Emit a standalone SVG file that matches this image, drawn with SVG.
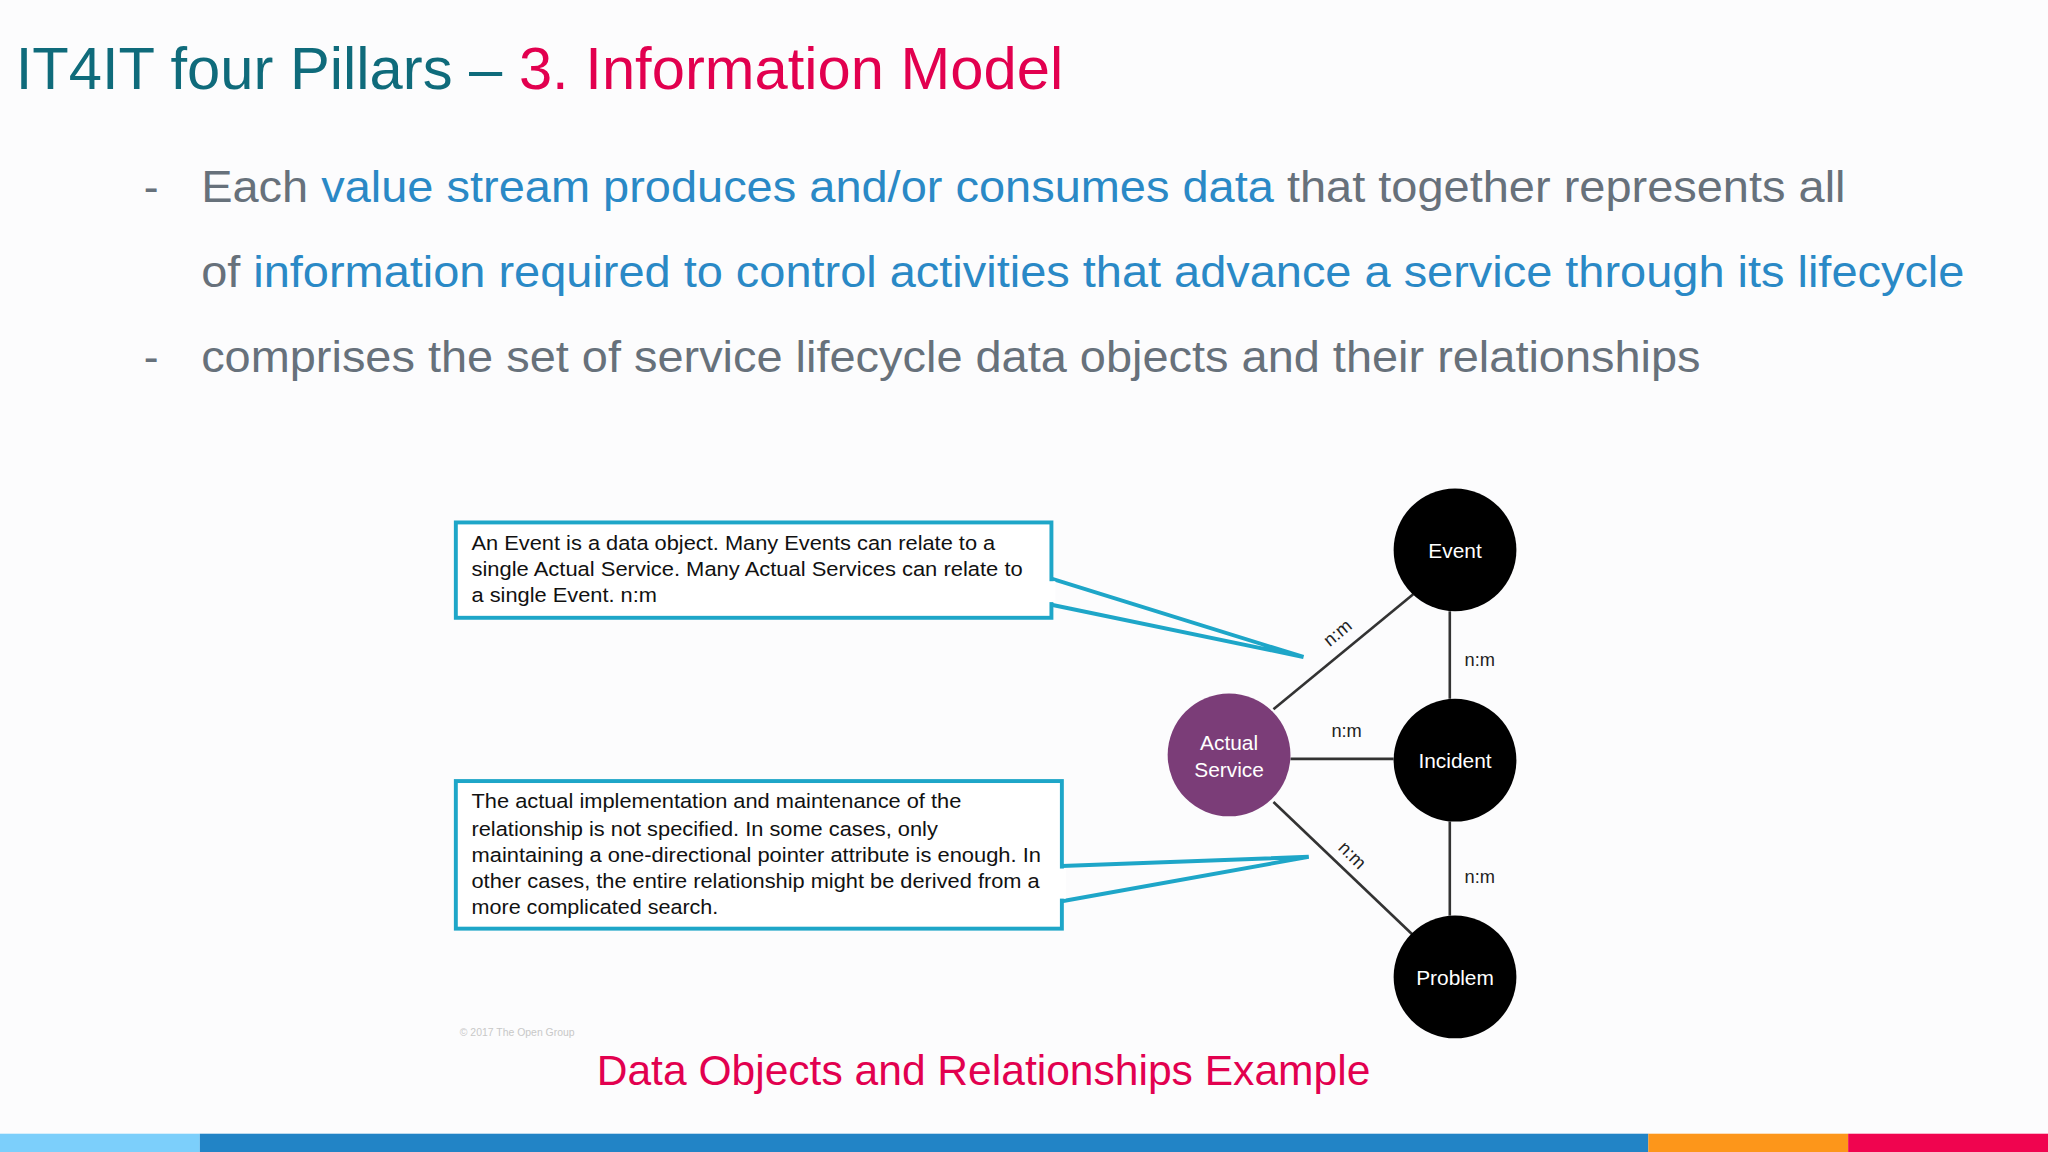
<svg xmlns="http://www.w3.org/2000/svg" width="2048" height="1152" viewBox="0 0 2048 1152">
<style>
.t{font-family:"Liberation Sans",Arial,sans-serif}
.b{font-size:34px;fill:#67717b}
.hl{fill:#2a89c6}
.box{fill:#fff;stroke:#1ea6c8;stroke-width:3}
.co{stroke:#1ea6c8;stroke-width:3;fill:none}
.bt{font-size:15.5px;fill:#111}
.node{fill:#000}
.nt{font-size:16px;fill:#fff;text-anchor:middle}
.ln{stroke:#333;stroke-width:2}
.lb{font-size:14px;fill:#222;text-anchor:middle}
</style>
<rect width="2048" height="1152" fill="#fcfcfd"/>
<g transform="scale(1.30612)">
<text class="t" x="12" y="68" font-size="45.5" fill="#0f6b7b" textLength="802" lengthAdjust="spacingAndGlyphs">IT4IT four Pillars – <tspan fill="#e2004f">3. Information Model</tspan></text>
<text class="t b" x="110" y="155">-</text>
<text class="t b" x="154" y="155" textLength="1259" lengthAdjust="spacingAndGlyphs">Each <tspan class="hl">value stream produces and/or consumes data</tspan> that together represents all</text>
<text class="t b" x="154" y="220" textLength="1350" lengthAdjust="spacingAndGlyphs">of <tspan class="hl">information required to control activities that advance a service through its lifecycle</tspan></text>
<text class="t b" x="110" y="285">-</text>
<text class="t b" x="154" y="285" textLength="1148" lengthAdjust="spacingAndGlyphs">comprises the set of service lifecycle data objects and their relationships</text>

<g id="connectors">
<line class="ln" x1="975" y1="543" x2="1082" y2="455"/>
<line class="ln" x1="988" y1="581" x2="1067" y2="581"/>
<line class="ln" x1="975" y1="614" x2="1082" y2="716"/>
<line class="ln" x1="1110" y1="468" x2="1110" y2="535"/>
<line class="ln" x1="1110" y1="629" x2="1110" y2="701"/>
<text class="t lb" transform="translate(1027,488) rotate(-40)">n:m</text>
<text class="t lb" x="1133" y="510">n:m</text>
<text class="t lb" x="1031" y="564">n:m</text>
<text class="t lb" transform="translate(1032,658) rotate(45)">n:m</text>
<text class="t lb" x="1133" y="676">n:m</text>
</g>

<g id="note1">
<rect class="box" x="349" y="400" width="456" height="73"/>
<polyline class="co" points="805,443 998,503 805,463"/>
<rect x="800" y="445" width="8" height="16" fill="#fff"/>
<text class="t bt" x="361" y="421" textLength="401" lengthAdjust="spacingAndGlyphs">An Event is a data object. Many Events can relate to a</text>
<text class="t bt" x="361" y="441" textLength="422" lengthAdjust="spacingAndGlyphs">single Actual Service. Many Actual Services can relate to</text>
<text class="t bt" x="361" y="461" textLength="142" lengthAdjust="spacingAndGlyphs">a single Event. n:m</text>
</g>
<g id="note2">
<rect class="box" x="349" y="598" width="464" height="113"/>
<polyline class="co" points="813,663 1002,656 813,690"/>
<rect x="808" y="665" width="8" height="23" fill="#fff"/>
<text class="t bt" x="361" y="619" textLength="375" lengthAdjust="spacingAndGlyphs">The actual implementation and maintenance of the</text>
<text class="t bt" x="361" y="640" textLength="357" lengthAdjust="spacingAndGlyphs">relationship is not specified. In some cases, only</text>
<text class="t bt" x="361" y="660" textLength="436" lengthAdjust="spacingAndGlyphs">maintaining a one-directional pointer attribute is enough. In</text>
<text class="t bt" x="361" y="680" textLength="435" lengthAdjust="spacingAndGlyphs">other cases, the entire relationship might be derived from a</text>
<text class="t bt" x="361" y="700" textLength="189" lengthAdjust="spacingAndGlyphs">more complicated search.</text>
</g>

<g id="actual-service"><circle cx="941" cy="578" r="47" fill="#7b3d78"/>
<text class="t nt" x="941" y="574" fill="#e8dde8">Actual</text><text class="t nt" x="941" y="595">Service</text></g>
<g id="event"><circle class="node" cx="1114" cy="421" r="47"/><text class="t nt" x="1114" y="427">Event</text></g>
<g id="incident"><circle class="node" cx="1114" cy="582" r="47"/><text class="t nt" x="1114" y="588">Incident</text></g>
<g id="problem"><circle class="node" cx="1114" cy="748" r="47"/><text class="t nt" x="1114" y="754">Problem</text></g>

<text class="t" x="352" y="793" font-size="8" fill="#c8c8c8">© 2017 The Open Group</text>
<text class="t" x="753" y="831" font-size="32.6" fill="#e2004f" text-anchor="middle">Data Objects and Relationships Example</text>

<rect x="0" y="868" width="153" height="14" fill="#7ccffb"/>
<rect x="153" y="868" width="1109" height="14" fill="#2284c6"/>
<rect x="1262" y="868" width="153" height="14" fill="#fd961a"/>
<rect x="1415" y="868" width="153" height="14" fill="#f0044f"/>
</g>
</svg>
